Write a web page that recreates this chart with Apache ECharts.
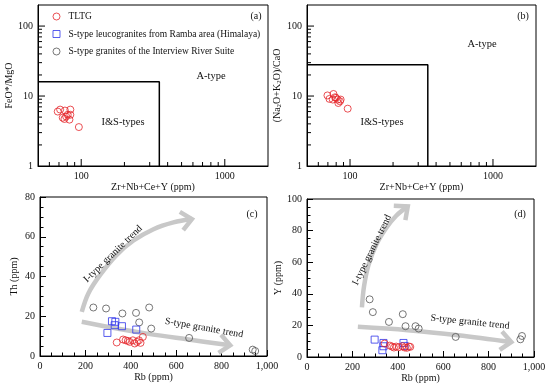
<!DOCTYPE html>
<html><head><meta charset="utf-8">
<script src="https://cdn.jsdelivr.net/npm/echarts@6/dist/echarts.min.js"></script>
<style>html,body{margin:0;padding:0;background:#fff}#c{width:550px;height:389px}</style>
</head><body><div id="c"></div>
<script>
// ---------- data ----------
const seriesNames = ['TLTG', 'S-type leucogranites from Ramba area (Himalaya)', 'S-type granites of the Interview River Suite'];

// (a) FeO*/MgO vs Zr+Nb+Ce+Y
const aTltgX = [68.6, 71.3, 77, 84, 74.3, 78.5, 80.5, 82.8, 76.4, 84, 96.3];
const aTltgY = [6.0, 6.4, 6.2, 6.4, 4.9, 5.1, 5.4, 4.6, 4.7, 5.4, 3.6];
// (b) (Na2O+K2O)/CaO vs Zr+Nb+Ce+Y
const bTltgX = [69.5, 76.6, 71.8, 75.7, 78.5, 82, 79.8, 82.8, 85, 86, 96.3];
const bTltgY = [10.2, 10.7, 9.1, 8.9, 9.6, 8.9, 9.4, 7.95, 8.4, 8.9, 6.6];
// discrimination boxes (Whalen et al.)
const aBoxX = [50, 350, 350];
const aBoxY = [16, 16, 1];
const bBoxX = [50, 350, 350];
const bBoxY = [28, 28, 1];

// (c) Th vs Rb
const cTltgX = [338, 366, 377, 387, 395, 409, 417, 427, 436, 443, 453];
const cTltgY = [6.8, 8.3, 7.9, 7.6, 7.1, 7.9, 6.3, 7.1, 7.9, 6.6, 9.6];
const cRambaX = [317, 332, 329, 361, 297, 424];
const cRambaY = [17.5, 17.2, 15.5, 15.0, 11.6, 13.3];
const cIrsX = [235, 291, 363, 423, 481, 437, 490, 657, 937, 948];
const cIrsY = [24.4, 23.9, 21.4, 21.7, 24.4, 16.9, 13.8, 9.1, 3.2, 2.5];
// (d) Y vs Rb
const dTltgX = [342, 365, 375, 383, 393, 405, 420, 430, 440, 449, 455];
const dTltgY = [8.5, 7.2, 6.6, 6.0, 6.6, 6.2, 6.8, 6.0, 5.8, 6.6, 6.4];
const dRambaX = [298, 337, 332, 337, 425, 430];
const dRambaY = [11.0, 8.9, 4.3, 6.8, 8.9, 7.0];
const dIrsX = [276, 290, 361, 422, 434, 478, 492, 655, 940, 947];
const dIrsY = [36.5, 28.4, 22.2, 27.1, 19.5, 19.5, 18.0, 12.7, 11.2, 13.3];

// trend arrows (paths in data units)
const cITrendX = [184, 213, 265, 338, 412, 500, 588, 669];
const cITrendY = [22.2, 31.5, 40.8, 50.9, 58.1, 63.8, 67.2, 68.9];
const cSTrendX = [184, 338, 485, 647, 838];
const cSTrendY = [17.2, 13.8, 11.0, 8.4, 5.4];
const dITrendX = [242, 251, 271, 305, 349, 393, 444];
const dITrendY = [31.4, 44.5, 58.3, 71.0, 81.6, 89.4, 95.3];
const dSTrendX = [224, 444, 665, 900];
const dSTrendY = [19.1, 17.0, 13.8, 9.5];

// tick labels / axis ranges
const logXRange = [50, 2000];
const logYRange = [1, 200];
const rbRange = [0, 1000];
const thRange = [0, 80];
const yRange = [0, 100];

// ---------- styles ----------
const FONT = 'Liberation Serif';
const RED = '#e5262b', BLUE = '#2f34ea', GREY = '#555555';
const ARROW = '#c8c8c8';

function zip(xs, ys) { return xs.map((x, i) => [x, ys[i]]); }

function scatter(name, xs, ys, gi, symbol, color) {
  return {
    type: 'scatter', name, xAxisIndex: gi, yAxisIndex: gi,
    data: zip(xs, ys), symbol, symbolSize: 7, silent: true, z: 5,
    itemStyle: { color: 'rgba(0,0,0,0)', borderColor: color, borderWidth: 1 }
  };
}

function boxLine(xs, ys, gi) {
  return {
    type: 'line', xAxisIndex: gi, yAxisIndex: gi, data: zip(xs, ys),
    symbol: 'none', silent: true, z: 3,
    lineStyle: { color: '#000', width: 1.5 }
  };
}

function logTicks(gi, xr, yr) {
  return {
    type: 'custom', xAxisIndex: gi, yAxisIndex: gi, data: [[100, 10]], silent: true, z: 4,
    renderItem(params, api) {
      const ch = [];
      const st = { stroke: '#000', lineWidth: 1 };
      const mk = (lo, hi, f) => {
        for (let e = Math.floor(Math.log10(lo)); Math.pow(10, e) <= hi; e++) {
          for (let k = 1; k <= 9; k++) {
            const v = k * Math.pow(10, e);
            if (v > lo * 1.0001 && v < hi * 0.9999) f(v, k === 1 ? 7 : 4);
          }
        }
      };
      mk(xr[0], xr[1], (v, len) => {
        const p = api.coord([v, yr[0]]);
        ch.push({ type: 'line', shape: { x1: p[0], y1: p[1], x2: p[0], y2: p[1] - len }, style: st });
      });
      mk(yr[0], yr[1], (v, len) => {
        const p = api.coord([xr[0], v]);
        ch.push({ type: 'line', shape: { x1: p[0], y1: p[1], x2: p[0] + len, y2: p[1] }, style: st });
      });
      return { type: 'group', children: ch };
    }
  };
}

function arrows(gi, paths) {
  return {
    type: 'custom', xAxisIndex: gi, yAxisIndex: gi, data: [[0, 0]], silent: true, z: 2,
    renderItem(params, api) {
      const ch = [];
      paths.forEach(([xs, ys]) => {
        const pts = xs.map((x, i) => api.coord([x, ys[i]]));
        const st = { stroke: ARROW, lineWidth: 4.5, fill: null };
        ch.push({ type: 'polyline', shape: { points: pts, smooth: 0.35 }, style: st });
        const n = pts.length;
        const [x1, y1] = pts[n - 2], [x2, y2] = pts[n - 1];
        const a = Math.atan2(y2 - y1, x2 - x1), L = 14, h = 0.72;
        ch.push({ type: 'polyline', shape: { points: [
          [x2 - L * Math.cos(a - h), y2 - L * Math.sin(a - h)], [x2, y2],
          [x2 - L * Math.cos(a + h), y2 - L * Math.sin(a + h)]] },
          style: { stroke: ARROW, lineWidth: 4.5, fill: null, lineJoin: 'miter' } });
      });
      return { type: 'group', children: ch };
    }
  };
}

const isPow10 = v => Math.abs(Math.log10(v) - Math.round(Math.log10(v))) < 1e-6;
const labelStyle = { fontFamily: FONT, fontSize: 10, color: '#111', margin: 5 };
const nameStyle = { fontFamily: FONT, fontSize: 10, color: '#111' };
const lineAx = { show: true, lineStyle: { color: '#000', width: 1 } };

function logAxis(gi, range, name, gap, extra) {
  return Object.assign({
    type: 'log', logBase: 10, gridIndex: gi, min: range[0], max: range[1],
    name, nameLocation: 'middle', nameGap: gap, nameTextStyle: nameStyle,
    axisLine: lineAx, axisTick: { show: false }, splitLine: { show: false },
    axisLabel: Object.assign({ formatter: v => isPow10(v) ? String(Math.round(v)) : '' }, labelStyle)
  }, extra || {});
}
function valAxis(gi, range, name, gap) {
  return {
    type: 'value', gridIndex: gi, min: range[0], max: range[1], interval: 20 * (range[1] > 100 ? 10 : 1),
    name, nameLocation: 'middle', nameGap: gap, nameTextStyle: nameStyle,
    axisLine: lineAx, splitLine: { show: false },
    axisTick: { show: true, inside: true, length: 6, lineStyle: { color: '#000' } },
    minorTick: { show: true, splitNumber: 4, length: 3.5, lineStyle: { color: '#000' } },
    axisLabel: labelStyle
  };
}

const gridBase = { show: true, borderColor: '#000', borderWidth: 1, backgroundColor: 'transparent' };

const option = {
  animation: false,
  backgroundColor: '#fff',
  grid: [
    Object.assign({ left: 38, top: 5, width: 230, height: 161 }, gridBase),
    Object.assign({ left: 307, top: 5, width: 229, height: 161 }, gridBase),
    Object.assign({ left: 40, top: 197, width: 227, height: 159 }, gridBase),
    Object.assign({ left: 307, top: 199, width: 227, height: 158 }, gridBase)
  ],
  xAxis: [
    logAxis(0, logXRange, 'Zr+Nb+Ce+Y (ppm)', 15),
    logAxis(1, logXRange, 'Zr+Nb+Ce+Y (ppm)', 15),
    valAxis(2, rbRange, 'Rb (ppm)', 16),
    valAxis(3, rbRange, 'Rb (ppm)', 16)
  ],
  yAxis: [
    logAxis(0, logYRange, 'FeO*/MgO', 23),
    logAxis(1, logYRange, '{n|(Na}{s|2}{n|O+K}{s|2}{n|O)/CaO}', 20, {
      nameTextStyle: { fontFamily: FONT, fontSize: 10, color: '#111',
        rich: { n: { fontFamily: FONT, fontSize: 10, color: '#111', lineHeight: 12 },
                s: { fontFamily: FONT, fontSize: 7, color: '#111', lineHeight: 7, verticalAlign: 'bottom' } } }
    }),
    valAxis(2, thRange, 'Th (ppm)', 21),
    valAxis(3, yRange, 'Y (ppm)', 22)
  ],
  legend: {
    orient: 'vertical', left: 52.5, top: 11.5, padding: 0, itemWidth: 7, itemHeight: 7, itemGap: 7.5,
    selectedMode: false,
    itemStyle: { borderWidth: 1 },
    textStyle: { fontFamily: FONT, fontSize: 9.5, color: '#111', padding: [0, 0, 0, 3.5] },
    data: seriesNames
  },
  series: [
    boxLine(aBoxX, aBoxY, 0),
    boxLine(bBoxX, bBoxY, 1),
    logTicks(0, logXRange, logYRange),
    logTicks(1, logXRange, logYRange),
    arrows(2, [[cITrendX, cITrendY], [cSTrendX, cSTrendY]]),
    arrows(3, [[dITrendX, dITrendY], [dSTrendX, dSTrendY]]),
    scatter(seriesNames[0], aTltgX, aTltgY, 0, 'circle', RED),
    scatter(seriesNames[0], bTltgX, bTltgY, 1, 'circle', RED),
    scatter(seriesNames[2], cIrsX, cIrsY, 2, 'circle', GREY),
    scatter(seriesNames[1], cRambaX, cRambaY, 2, 'rect', BLUE),
    scatter(seriesNames[0], cTltgX, cTltgY, 2, 'circle', RED),
    scatter(seriesNames[2], dIrsX, dIrsY, 3, 'circle', GREY),
    scatter(seriesNames[1], dRambaX, dRambaY, 3, 'rect', BLUE),
    scatter(seriesNames[0], dTltgX, dTltgY, 3, 'circle', RED)
  ],
  graphic: (function () {
    const t = (text, x, y, size, rot, align) => ({
      type: 'text', x, y, rotation: (rot || 0) * Math.PI / 180, silent: true, z: 10,
      style: { text, fill: '#111', font: size + 'px "' + FONT + '"', textAlign: align || 'center', textVerticalAlign: 'middle' }
    });
    return [
      t('(a)', 256, 16, 10), t('(b)', 523, 16, 10), t('(c)', 252, 214, 10), t('(d)', 520, 214, 10),
      t('A-type', 211, 76, 10.5), t('I&S-types', 123, 122, 10.5),
      t('A-type', 482, 44, 10.5), t('I&S-types', 382, 122, 10.5),
      t('I-type granite trend', 113, 254, 10, 44), t('S-type granite trend', 204, 328, 10, -10),
      t('I-type granite trend', 372, 250, 10, 64), t('S-type granite trend', 470, 322, 10, -6)
    ];
  })()
};

const chart = echarts.init(document.getElementById('c'), null, { renderer: 'canvas' });
chart.setOption(option);
</script>
</body></html>
